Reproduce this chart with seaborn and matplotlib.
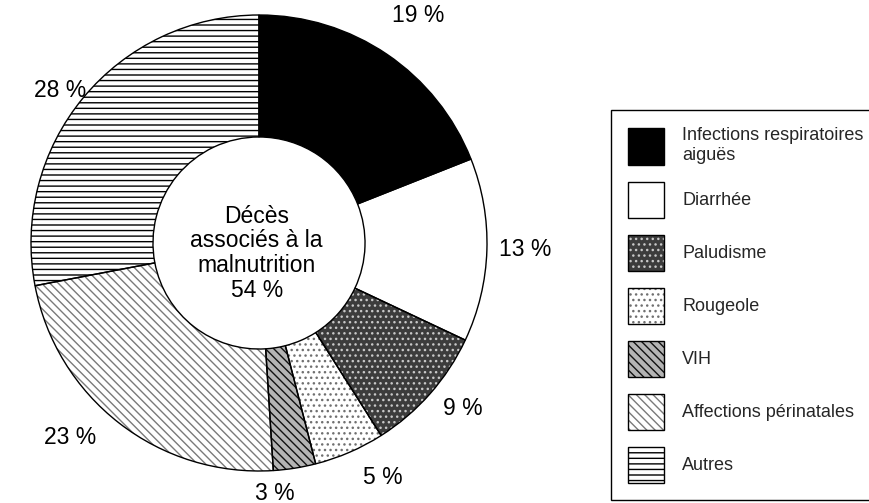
import matplotlib
matplotlib.use("Agg")
import matplotlib.pyplot as plt
from matplotlib.patches import Patch
import seaborn as sns

# ---- data ----
categories = ["Infections respiratoires\naiguës", "Diarrhée", "Paludisme", "Rougeole",
              "VIH", "Affections périnatales", "Autres"]
values = [19, 13, 9, 5, 3, 23, 28]
center_label = "Décès\nassociés à la\nmalnutrition\n54 %"

# ---- styles ----
sns.set_theme(style="white")
plt.rcParams['font.family'] = ['Liberation Sans', 'DejaVu Sans']
plt.rcParams['hatch.linewidth'] = 1.0

styles = [
    dict(facecolor='black', hatch=None, hatchcolor='black'),
    dict(facecolor='white', hatch=None, hatchcolor='white'),
    dict(facecolor='#3c3c3c', hatch='...', hatchcolor='#c8c8c8'),
    dict(facecolor='white', hatch='...', hatchcolor='#707070'),
    dict(facecolor='#b4b4b4', hatch='\\\\\\\\', hatchcolor='#111111'),
    dict(facecolor='white', hatch='\\\\\\\\', hatchcolor='#7a7a7a'),
    dict(facecolor='white', hatch='---', hatchcolor='black'),
]
# label positions (data units, pie radius = 1)
label_xy = [(0.70, 0.996), (1.167, -0.03), (0.895, -0.724), (0.544, -1.03),
            (0.07, -1.10), (-0.829, -0.855), (-0.873, 0.671)]

W, H = 870, 503
cx, cy, R = 259, 243, 228
fig = plt.figure(figsize=(W / 100, H / 100), dpi=100)
ax = fig.add_axes([(cx - R) / W, (H - cy - R) / H, 2 * R / W, 2 * R / H])

ring = 0.535
wedges, _ = ax.pie(values, startangle=90, counterclock=False, radius=1,
                   wedgeprops=dict(width=ring, linewidth=0))
for w, s in zip(wedges, styles):
    w.set_facecolor(s['facecolor'])
    w.set_hatch(s['hatch'])
    w.set_edgecolor(s['hatchcolor'])
ax.pie(values, startangle=90, counterclock=False, radius=1,
       wedgeprops=dict(width=ring, fill=False, edgecolor='black', linewidth=1.0))
ax.set_xlim(-1, 1)
ax.set_ylim(-1, 1)

for v, (x, y) in zip(values, label_xy):
    ax.text(x, y, f"{v} %", ha='center', va='center', fontsize=16.5, color='black')

ax.text(-0.01, -0.045, center_label, ha='center', va='center', fontsize=16.5,
        linespacing=1.1, color='black')

handles = []
for s in styles:
    h1 = Patch(facecolor=s['facecolor'], hatch=s['hatch'], edgecolor=s['hatchcolor'], linewidth=0)
    h2 = Patch(fill=False, edgecolor='black', linewidth=1.0)
    handles.append((h1, h2))

leg = fig.legend(handles, categories, loc='upper left',
                 bbox_to_anchor=(611 / W, 1 - 110 / H), borderaxespad=0,
                 fontsize=13, frameon=True, fancybox=False, shadow=False,
                 edgecolor='black', framealpha=1, borderpad=0.95,
                 labelspacing=0.94, handlelength=2.0, handleheight=2.7,
                 handletextpad=1.0)
leg.get_frame().set_linewidth(1.0)

fig.savefig("out.png", dpi=100)
